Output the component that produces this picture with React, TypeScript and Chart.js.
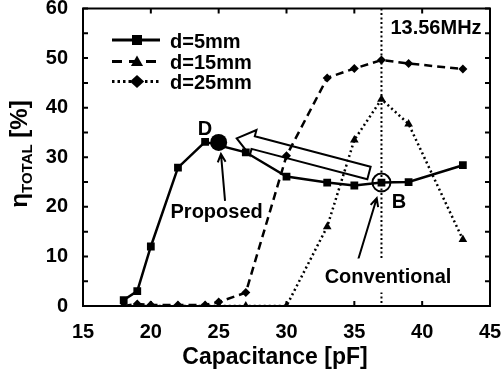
import React, { useEffect, useRef } from "react";
import { Chart, registerables } from "chart.js";

Chart.register(...registerables);

const FONT = "'Liberation Sans', Arial, Helvetica, sans-serif";

// ---- data ----
const capD5 = [18, 19, 20, 22, 24, 27, 30, 33, 35, 37, 39, 43];
const etaD5 = [1.2, 3.0, 12.0, 27.9, 33.1, 31.0, 26.1, 24.9, 24.3, 24.9, 25.0, 28.4];

const capD15 = [18, 19, 20, 22, 24, 25, 27, 30, 33, 35, 37, 39, 43];
const etaD15 = [0, 0.4, 0.2, 0.2, 0.2, 0.8, 2.7, 30.3, 46.0, 47.9, 49.6, 48.9, 47.8];

const capD25 = [18, 19, 20, 22, 24, 25, 27, 30, 33, 35, 37, 39, 43];
const etaD25 = [0, 0, 0, 0, 0, 0, 0, 0, 16.0, 33.5, 41.7, 36.7, 13.4];

const seriesLabels = ["d=5mm", "d=15mm", "d=25mm"];

const xTicks = [15, 20, 25, 30, 35, 40, 45];
const yTicks = [0, 10, 20, 30, 40, 50, 60];
const yMinorTicks = [5, 15, 25, 35, 45, 55];

const resonanceCap = 37; // 13.56 MHz
const pointD = { x: 25, y: 33.0 };
const pointB = { x: 37, y: 24.9 };

// annotation anchors, in data coordinates
const labelFreq = { x: 41.02, y: 56.1, text: "13.56MHz" };
const labelD = { x: 23.99, y: 35.9, text: "D" };
const labelB = { x: 38.29, y: 21.0, text: "B" };
const labelProposed = { x: 24.85, y: 19.0, text: "Proposed" };
const labelConventional = { x: 37.48, y: 5.95, text: "Conventional" };
const arrowProposed = { from: { x: 25.47, y: 21.2 }, to: { x: 25.17, y: 30.66 } };
const arrowConventional = { from: { x: 35.05, y: 7.26 }, to: { x: 36.65, y: 21.72 } };
const hollowArrow = { from: { x: 36.08, y: 26.83 }, to: { x: 26.33, y: 33.82 } };

const zip = (xs: number[], ys: number[]) => xs.map((x, i) => ({ x, y: ys[i] }));

function drawMarker(ctx: CanvasRenderingContext2D, kind: string, x: number, y: number, s: number) {
  ctx.beginPath();
  if (kind === "square") {
    ctx.rect(x - s, y - s, 2 * s, 2 * s);
  } else if (kind === "triangle") {
    ctx.moveTo(x, y - s * 1.1);
    ctx.lineTo(x + s * 1.1, y + s * 0.8);
    ctx.lineTo(x - s * 1.1, y + s * 0.8);
    ctx.closePath();
  } else {
    ctx.moveTo(x, y - s * 1.2);
    ctx.lineTo(x + s * 1.3, y);
    ctx.lineTo(x, y + s * 1.2);
    ctx.lineTo(x - s * 1.3, y);
    ctx.closePath();
  }
  ctx.fill();
}

function lineArrow(ctx: CanvasRenderingContext2D, x0: number, y0: number, x1: number, y1: number) {
  const a = Math.atan2(y1 - y0, x1 - x0);
  const h = 9;
  ctx.beginPath();
  ctx.moveTo(x0, y0);
  ctx.lineTo(x1, y1);
  ctx.moveTo(x1 - h * Math.cos(a - 0.45), y1 - h * Math.sin(a - 0.45));
  ctx.lineTo(x1, y1);
  ctx.lineTo(x1 - h * Math.cos(a + 0.45), y1 - h * Math.sin(a + 0.45));
  ctx.stroke();
}

const decorPlugin = {
  id: "decor",
  beforeDatasetsDraw(chart: any) {
    const { ctx, chartArea } = chart;
    const x = chart.scales.x.getPixelForValue(resonanceCap);
    ctx.save();
    ctx.strokeStyle = "#000";
    ctx.lineWidth = 2;
    ctx.setLineDash([2, 2.5]);
    ctx.beginPath();
    ctx.moveTo(x, chartArea.top);
    ctx.lineTo(x, chartArea.bottom);
    ctx.stroke();
    ctx.restore();
  },
  afterDatasetsDraw(chart: any) {
    const { ctx, chartArea } = chart;
    const { left, right, top, bottom } = chartArea;
    const xs = chart.scales.x;
    const ys = chart.scales.y;
    const px = (v: number) => xs.getPixelForValue(v);
    const py = (v: number) => ys.getPixelForValue(v);
    ctx.save();
    ctx.fillStyle = "#000";
    ctx.strokeStyle = "#000";
    ctx.setLineDash([]);

    // frame
    ctx.lineWidth = 2;
    ctx.strokeRect(left, top, right - left, bottom - top);
    // inward ticks
    ctx.beginPath();
    xTicks.forEach((t) => {
      const x = px(t);
      ctx.moveTo(x, bottom);
      ctx.lineTo(x, bottom - 5);
      ctx.moveTo(x, top);
      ctx.lineTo(x, top + 5);
    });
    [...yTicks, ...yMinorTicks].forEach((t) => {
      const y = py(t);
      ctx.moveTo(left, y);
      ctx.lineTo(left + 5, y);
      ctx.moveTo(right, y);
      ctx.lineTo(right - 5, y);
    });
    ctx.stroke();

    // hollow arrow
    {
      const tx = px(hollowArrow.from.x), ty = py(hollowArrow.from.y);
      const hx = px(hollowArrow.to.x), hy = py(hollowArrow.to.y);
      const len = Math.hypot(hx - tx, hy - ty);
      const ux = (hx - tx) / len, uy = (hy - ty) / len;
      const nx = -uy, ny = ux;
      const sw = 6.5, hw = 13, hl = 17;
      const bx = hx - ux * hl, by = hy - uy * hl;
      ctx.lineWidth = 2;
      ctx.beginPath();
      ctx.moveTo(tx + nx * sw, ty + ny * sw);
      ctx.lineTo(bx + nx * sw, by + ny * sw);
      ctx.lineTo(bx + nx * hw, by + ny * hw);
      ctx.lineTo(hx, hy);
      ctx.lineTo(bx - nx * hw, by - ny * hw);
      ctx.lineTo(bx - nx * sw, by - ny * sw);
      ctx.lineTo(tx - nx * sw, ty - ny * sw);
      ctx.closePath();
      ctx.stroke();
    }

    // point D and B
    ctx.beginPath();
    ctx.arc(px(pointD.x), py(pointD.y), 8.5, 0, Math.PI * 2);
    ctx.fill();
    ctx.lineWidth = 2;
    ctx.beginPath();
    ctx.arc(px(pointB.x), py(pointB.y), 9, 0, Math.PI * 2);
    ctx.stroke();

    // arrows
    ctx.lineWidth = 2;
    lineArrow(ctx, px(arrowProposed.from.x), py(arrowProposed.from.y), px(arrowProposed.to.x), py(arrowProposed.to.y));
    lineArrow(ctx, px(arrowConventional.from.x), py(arrowConventional.from.y), px(arrowConventional.to.x), py(arrowConventional.to.y));

    // labels
    ctx.font = `bold 20px ${FONT}`;
    ctx.textAlign = "center";
    ctx.textBaseline = "middle";
    {
      const cx = px(labelConventional.x), cy = py(labelConventional.y);
      const w = ctx.measureText(labelConventional.text).width;
      ctx.fillStyle = "#fff";
      ctx.fillRect(cx - w / 2 - 3, cy - 18, w + 6, 34);
      ctx.fillStyle = "#000";
      ctx.fillText(labelConventional.text, cx, cy + 1);
    }
    [labelFreq, labelD, labelB, labelProposed].forEach((l) => {
      ctx.fillText(l.text, px(l.x), py(l.y) + 1);
    });

    // legend
    const legendStyles = [
      { dash: [] as number[], marker: "square", size: 5 },
      { dash: [10, 7], marker: "triangle", size: 5.5 },
      { dash: [2.5, 3], marker: "diamond", size: 5.5 },
    ];
    const legendY = [40, 61.5, 81.5];
    seriesLabels.forEach((lab, i) => {
      const y = legendY[i];
      const st = legendStyles[i];
      ctx.lineWidth = 3;
      ctx.setLineDash(st.dash);
      ctx.beginPath();
      ctx.moveTo(112, y);
      ctx.lineTo(160, y);
      ctx.stroke();
      ctx.setLineDash([]);
      drawMarker(ctx, st.marker, 137, y, st.size);
      ctx.textAlign = "left";
      ctx.textBaseline = "alphabetic";
      ctx.fillText(lab, 170, y + 7.5);
    });

    ctx.restore();

    // axis titles (outside chart area)
    ctx.save();
    ctx.fillStyle = "#000";
    ctx.font = `bold 23px ${FONT}`;
    ctx.textAlign = "center";
    ctx.textBaseline = "alphabetic";
    ctx.fillText("Capacitance [pF]", 275, 364);

    ctx.translate(27, 154);
    ctx.rotate(-Math.PI / 2);
    const big = `bold 24px ${FONT}`;
    const small = `bold 15px ${FONT}`;
    ctx.font = big;
    const wEta = ctx.measureText("η").width;
    const wPct = ctx.measureText(" [%]").width;
    ctx.font = small;
    const wSub = ctx.measureText("TOTAL").width;
    const total = wEta + wSub + wPct;
    let x0 = -total / 2;
    ctx.textAlign = "left";
    ctx.font = big;
    ctx.fillText("η", x0, 0);
    x0 += wEta;
    ctx.font = small;
    ctx.fillText("TOTAL", x0, 5);
    x0 += wSub;
    ctx.font = big;
    ctx.fillText(" [%]", x0, 0);
    ctx.restore();
  },
};

export default function App() {
  const ref = useRef<HTMLCanvasElement | null>(null);
  useEffect(() => {
    if (!ref.current) return;
    const chart = new Chart(ref.current, {
      type: "line",
      data: {
        datasets: [
          {
            label: seriesLabels[0],
            data: zip(capD5, etaD5),
            borderColor: "#000",
            backgroundColor: "#000",
            borderWidth: 2.5,
            pointStyle: "rect",
            pointRadius: 5.5,
            pointBorderWidth: 0,
            tension: 0,
          },
          {
            label: seriesLabels[1],
            data: zip(capD15, etaD15),
            borderColor: "#000",
            backgroundColor: "#000",
            borderWidth: 2.5,
            borderDash: [8, 5],
            pointStyle: "rectRot",
            pointRadius: 4.5,
            pointBorderWidth: 0,
            tension: 0,
          },
          {
            label: seriesLabels[2],
            data: zip(capD25, etaD25),
            borderColor: "#000",
            backgroundColor: "#000",
            borderWidth: 2.5,
            borderDash: [2, 3],
            pointStyle: "triangle",
            pointRadius: 5,
            pointBorderWidth: 0,
            tension: 0,
          },
        ],
      },
      options: {
        animation: false,
        responsive: false,
        devicePixelRatio: 1,
        layout: { padding: { top: 8.5, right: 12, left: 0, bottom: 0 }, autoPadding: false },
        plugins: { legend: { display: false }, tooltip: { enabled: false } },
        scales: {
          x: {
            type: "linear",
            min: 15,
            max: 45,
            grid: { display: false },
            border: { display: false },
            ticks: { stepSize: 5, color: "#000", padding: 6, font: { family: FONT, size: 20, weight: "bold" } },
            afterFit: (s: any) => {
              s.height = 71;
              s.paddingLeft = 0;
              s.paddingRight = 0;
              s.paddingTop = 0;
              s.paddingBottom = 0;
            },
          },
          y: {
            min: 0,
            max: 60,
            grid: { display: false },
            border: { display: false },
            ticks: { stepSize: 10, color: "#000", padding: 7, font: { family: FONT, size: 20, weight: "bold" } },
            afterFit: (s: any) => {
              s.width = 83;
              s.paddingLeft = 0;
              s.paddingRight = 0;
              s.paddingTop = 0;
              s.paddingBottom = 0;
            },
          },
        },
      } as any,
      plugins: [decorPlugin],
    });
    return () => chart.destroy();
  }, []);
  return (
    <div style={{ position: "absolute", left: 0, top: 0, width: 502, height: 377, background: "#fff" }}>
      <canvas ref={ref} width={502} height={377} style={{ display: "block" }} />
    </div>
  );
}
